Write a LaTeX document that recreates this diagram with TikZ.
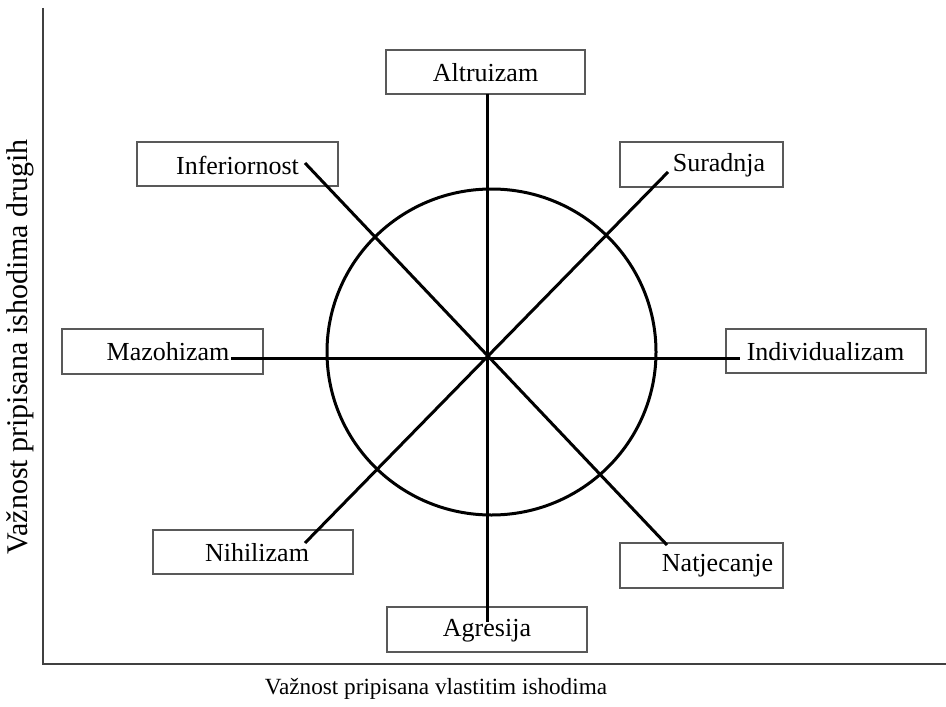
\documentclass[tikz,border=0pt]{standalone}
\usepackage{fontspec}
\setmainfont{Liberation Serif}
\begin{document}
\begin{tikzpicture}[x=0.5pt,y=-0.5pt,
  boxst/.style={draw=black!65,line width=1pt,rectangle,inner sep=0pt,fill=white},
  lbl/.style={font=\fontsize{13}{15}\selectfont,inner sep=0pt,anchor=center},
  spoke/.style={line width=1.5pt,black},
  axisst/.style={line width=1pt,black!75}]
\useasboundingbox (0,0) rectangle (946,706);
% axes
\coordinate (ytop) at (43,8);
\coordinate (orig) at (43,664);
\coordinate (xend) at (946,664);
\draw[axisst] (ytop) -- (orig) -- (xend);
\node[font=\fontsize{15}{17}\selectfont,rotate=90,inner sep=0pt] (ylab) at (20,347) {Važnost pripisana ishodima drugih};
\node[font=\fontsize{11.6}{14}\selectfont,inner sep=0pt] (xlab) at (436,689) {Važnost pripisana vlastitim ishodima};
% circle
\draw[line width=1.5pt] (491.5,352) ellipse [x radius=82.25pt, y radius=81.5pt];
% boxes
\node[boxst,minimum width=99.5pt,minimum height=22pt] (bAlt) at (485.5,72) {};
\node[boxst,minimum width=100.5pt,minimum height=22pt] (bInf) at (237.5,164) {};
\node[boxst,minimum width=81.5pt,minimum height=22.5pt] (bSur) at (701.5,164.5) {};
\node[boxst,minimum width=100.5pt,minimum height=22.5pt] (bMaz) at (162.5,351.5) {};
\node[boxst,minimum width=100pt,minimum height=22pt] (bInd) at (826,351) {};
\node[boxst,minimum width=100pt,minimum height=22pt] (bNih) at (253,552) {};
\node[boxst,minimum width=81.5pt,minimum height=22.5pt] (bNat) at (701.5,565.5) {};
\node[boxst,minimum width=100pt,minimum height=22.5pt] (bAgr) at (487,629.5) {};
% spokes
\coordinate (c) at (487,358);
\coordinate (eN) at (487,94);
\coordinate (eS) at (487,622);
\coordinate (eW) at (231,358);
\coordinate (eE) at (740,358);
\coordinate (eNW) at (305,163);
\coordinate (eSE) at (667,545);
\coordinate (eNE) at (668,172);
\coordinate (eSW) at (305,543);
\draw[spoke] (eN) -- (eS);
\draw[spoke] (eW) -- (eE);
\draw[spoke] (eNW) -- (eSE);
\draw[spoke] (eNE) -- (eSW);
% labels
\node[lbl] (tAlt) at (485.5,73) {Altruizam};
\node[lbl] (tInf) at (237.5,165) {Inferiornost};
\node[lbl] (tSur) at (719,165) {Suradnja};
\node[lbl] (tMaz) at (168,352) {Mazohizam};
\node[lbl] (tInd) at (825.5,352) {Individualizam};
\node[lbl] (tNih) at (257,553) {Nihilizam};
\node[lbl] (tNat) at (717.5,566) {Natjecanje};
\node[lbl] (tAgr) at (487,631) {Agresija};
\end{tikzpicture}
\end{document}
